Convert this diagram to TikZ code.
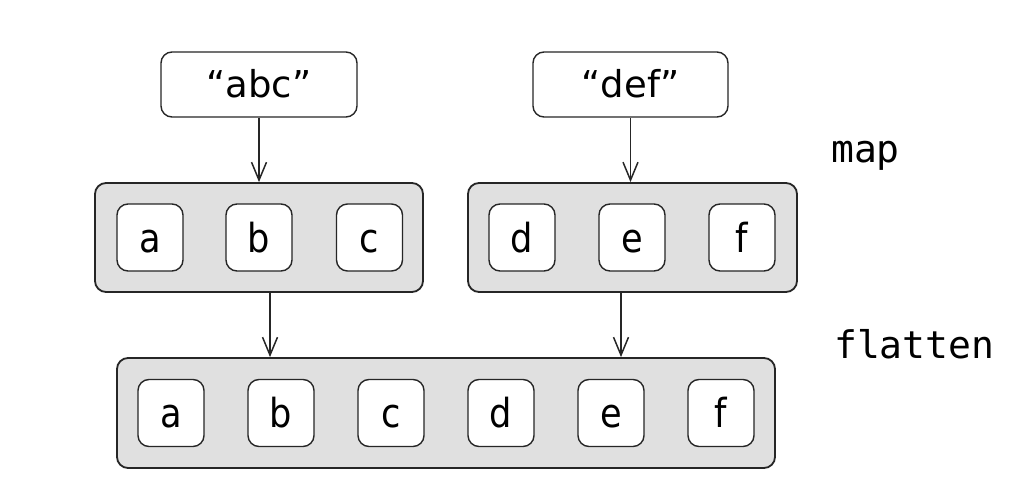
\documentclass[tikz,border=0pt]{standalone}
\usepackage{fontspec}
\setmainfont{DejaVu Sans}
\setmonofont{DejaVu Sans Mono}
\newfontfamily\cellfont{DejaVu Sans}[FakeStretch=0.88]
\usetikzlibrary{arrows.meta}
\begin{document}
\begin{tikzpicture}[x=1pt,y=-1pt,
  topbox/.style={draw=black!85,line width=1.4pt,rounded corners=11pt,fill=white,
    minimum width=196pt,minimum height=65pt,inner sep=0pt,
    text height=27pt,text depth=0pt,
    font=\fontsize{37}{40}\selectfont},
  group/.style={draw=black!85,line width=1.8pt,rounded corners=11pt,fill=black!12,
    minimum height=109pt,inner sep=0pt},
  cell/.style={draw=black!85,line width=1.4pt,rounded corners=11pt,fill=white,
    minimum width=66pt,minimum height=67pt,inner sep=0pt,
    text height=29pt,text depth=0pt,
    font=\cellfont\fontsize{40}{44}\selectfont},
  lbl/.style={font=\ttfamily\fontsize{38}{40}\selectfont,anchor=base west,inner sep=0pt},
  arr/.style={draw=black!85,line width=1.4pt,-{Straight Barb[length=18pt,width=15pt,line width=1.5pt]}}]
\useasboundingbox (0,0) rectangle (1036,500);

\node[topbox] (abc) at (259,84.5) {“abc”};
\node[topbox,minimum width=195pt] (def) at (630.5,84.5) {“def”};

\node[group,minimum width=328pt] (g1) at (259,237.5) {};
\node[group,minimum width=329pt] (g2) at (632.5,237.5) {};
\node[group,minimum width=658pt,minimum height=110pt] (all) at (446,413) {};

\node[cell] (g1a) at (150,237.5) {a};
\node[cell] (g1b) at (259,237.5) {b};
\node[cell] (g1c) at (369.5,237.5) {c};
\node[cell] (g2d) at (522,237.5) {d};
\node[cell] (g2e) at (632,237.5) {e};
\node[cell] (g2f) at (742,237.5) {f};

\node[cell] (ra) at (171,413) {a};
\node[cell] (rb) at (281,413) {b};
\node[cell] (rc) at (391,413) {c};
\node[cell] (rd) at (501,413) {d};
\node[cell] (re) at (611,413) {e};
\node[cell] (rf) at (721,413) {f};

\draw[arr] (abc.south) -- (g1.north);
\draw[arr] (def.south) -- (def.south |- g2.north);
\coordinate (p1) at ([xshift=11pt]g1.south);
\coordinate (p2) at ([xshift=-11.5pt]g2.south);
\draw[arr] (p1) -- (p1 |- all.north);
\draw[arr] (p2) -- (p2 |- all.north);

\node[lbl] (map) at (831,162) {map};
\node[lbl] (flat) at (834,358) {flatten};
\end{tikzpicture}
\end{document}
